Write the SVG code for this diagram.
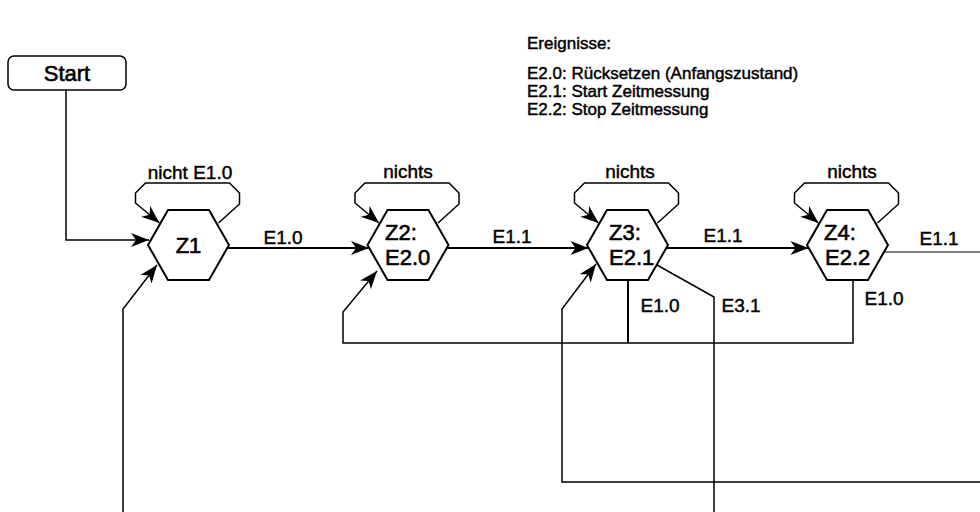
<svg xmlns="http://www.w3.org/2000/svg" width="980" height="512" viewBox="0 0 980 512">
<defs>
<style>
.t{font-family:"Liberation Sans",Arial,sans-serif;fill:#000;stroke:#000;stroke-width:0.45}
.hex{fill:#fff;stroke:#000;stroke-width:2}
.lbl{font-size:19px}
.ht{font-size:22px;stroke-width:0.6}
.lg{font-size:17px}
.c{fill:none;stroke:#000;stroke-width:1.5}
.cm{fill:none;stroke:#000;stroke-width:2}
</style>
<marker id="arr" viewBox="-20 -9 22 18" refX="0" refY="0" markerWidth="22" markerHeight="18" markerUnits="userSpaceOnUse" orient="auto">
<path d="M0,0 L-18,-7 L-13,0 L-18,7 Z" fill="#000"/>
</marker>
</defs>
<rect width="980" height="512" fill="#fff"/>

<g id="legend">
<text class="t lg" x="527" y="49">Ereignisse:</text>
<text class="t lg" x="527" y="79">E2.0: Rücksetzen (Anfangszustand)</text>
<text class="t lg" x="527" y="97">E2.1: Start Zeitmessung</text>
<text class="t lg" x="527" y="115">E2.2: Stop Zeitmessung</text>
</g>

<g id="connectors">
<path class="c" d="M66,90 V240 H149" marker-end="url(#arr)"/>
<path class="c" d="M218.5,223 L239.5,204 V193 L229.5,183 H145.5 L135.5,193 V203 L159.5,223" marker-end="url(#arr)"/>
<path class="c" d="M438,223 L459,204 V193 L449,183 H365 L355,193 V203 L379,223" marker-end="url(#arr)"/>
<path class="c" d="M657.5,223 L678.5,204 V193 L668.5,183 H584.5 L574.5,193 V203 L598.5,223" marker-end="url(#arr)"/>
<path class="c" d="M877.5,223 L898.5,204 V193 L888.5,183 H804.5 L794.5,193 V203 L818.5,223" marker-end="url(#arr)"/>
<path class="cm" d="M228,248 H369" marker-end="url(#arr)"/>
<path class="cm" d="M447,248 H588.5" marker-end="url(#arr)"/>
<path class="cm" d="M666.5,248 H808.5" marker-end="url(#arr)"/>
<path class="c" style="stroke-width:1" d="M884,252 H980"/>
<path class="c" d="M980,482 H562 V309 L596,264" marker-end="url(#arr)"/>
<path class="cm" d="M628,280 V343"/>
<path class="c" d="M853,280 V343 H343 V312 L377,271" marker-end="url(#arr)"/>
<path class="c" d="M657,265 L714,297 V512"/>
<path class="c" d="M123,512 V309 L157,265" marker-end="url(#arr)"/>
<text class="t lbl" x="283" y="244" text-anchor="middle">E1.0</text>
<text class="t lbl" x="512" y="243" text-anchor="middle">E1.1</text>
<text class="t lbl" x="723" y="242" text-anchor="middle">E1.1</text>
<text class="t lbl" x="939" y="245" text-anchor="middle">E1.1</text>
<text class="t lbl" x="660" y="312" text-anchor="middle">E1.0</text>
<text class="t lbl" x="741" y="312" text-anchor="middle">E3.1</text>
<text class="t lbl" x="884" y="305" text-anchor="middle">E1.0</text>
<text class="t lbl" x="190" y="179" text-anchor="middle">nicht E1.0</text>
<text class="t lbl" x="408" y="178" text-anchor="middle">nichts</text>
<text class="t lbl" x="630" y="178" text-anchor="middle">nichts</text>
<text class="t lbl" x="852" y="178" text-anchor="middle">nichts</text>
</g>

<g id="start">
<rect x="8" y="56" width="118" height="34" rx="6" fill="#fff" stroke="#000" stroke-width="1.5"/>
<text class="t ht" x="67" y="81" text-anchor="middle">Start</text>
</g>

<g id="Z1">
<polygon class="hex" points="148,245 168,210 209,210 229,245 209,280 168,280"/>
<text class="t ht" x="188.5" y="252.5" text-anchor="middle">Z1</text>
</g>
<g id="Z2">
<polygon class="hex" points="367.5,245 387.5,210 428.5,210 448.5,245 428.5,280 387.5,280"/>
<text class="t ht" x="385" y="239.5">Z2:</text>
<text class="t ht" x="385" y="264.5">E2.0</text>
</g>
<g id="Z3">
<polygon class="hex" points="587,245 607,210 648,210 668,245 648,280 607,280"/>
<text class="t ht" x="609" y="239.5">Z3:</text>
<text class="t ht" x="609" y="264.5">E2.1</text>
</g>
<g id="Z4">
<polygon class="hex" points="807,245 827,210 868,210 888,245 868,280 827,280"/>
<text class="t ht" x="824" y="239.5">Z4:</text>
<text class="t ht" x="825" y="264.5">E2.2</text>
</g>
</svg>
